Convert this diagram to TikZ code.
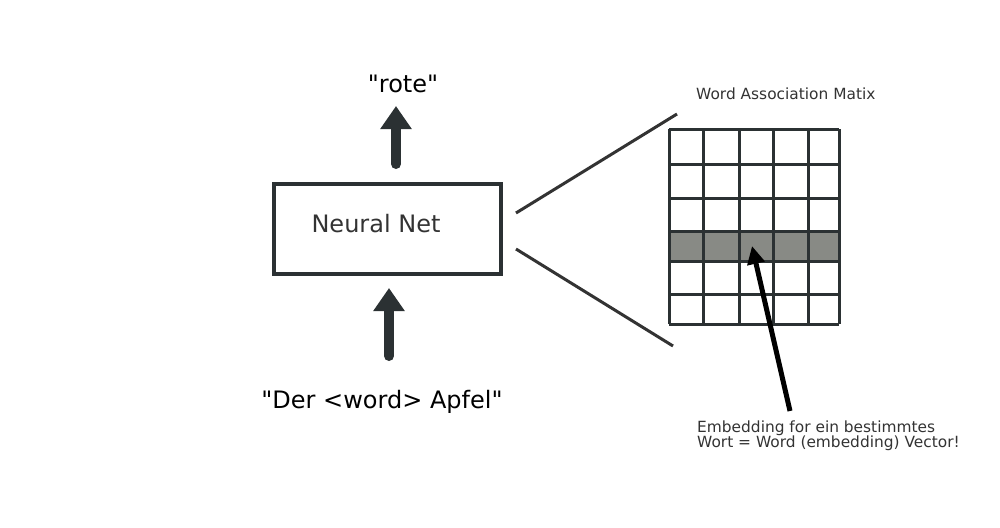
\documentclass[tikz,border=0pt]{standalone}
\usepackage{fontspec}
\setmainfont{DejaVu Sans}[Ligatures=TeXOff]
\usetikzlibrary{arrows.meta}
\definecolor{inkgray}{HTML}{2B3133}
\definecolor{textgray}{HTML}{333333}
\definecolor{rowgray}{HTML}{888A85}
\tikzset{
  bigtext/.style={font=\fontsize{24}{28}\selectfont},
  smalltext/.style={font=\fontsize{15.4}{15}\selectfont, text=textgray, inner sep=0pt},
  fatarrow/.style={draw=inkgray, line width=10pt, line cap=round,
    -{Triangle[width=30pt,length=23pt]}},
  zoomline/.style={draw=textgray, line width=3pt},
  gridline/.style={draw=inkgray, line width=3pt},
}
\begin{document}
\begin{tikzpicture}[x=1pt,y=-1pt]
  \useasboundingbox
    (0,0)
    rectangle
    (1000,527);
  % neural net box
  \node[draw=inkgray, line width=4pt, minimum width=227pt, minimum height=90pt,
    inner sep=0pt] (net) at (387.5,229) {};
  \node[bigtext, text=textgray, anchor=base] (netlabel) at (376,232) {Neural Net};
  \node[bigtext, anchor=base] (outword) at (403,92) {"rote"};
  \node[bigtext, anchor=base] (inword) at (382,408) {"Der <word> Apfel"};
  % arrows in and out
  \coordinate (outfoot) at (396,164);
  \coordinate (outtip) at (396,106);
  \coordinate (infoot) at (389,356);
  \coordinate (intip) at (389,288);
  \draw[fatarrow]
    (outfoot)
    --
    (outtip);
  \draw[fatarrow]
    (infoot)
    --
    (intip);
  % zoom lines
  \coordinate (zoomtopa) at (516,213);
  \coordinate (zoomtopb) at (677,114);
  \coordinate (zoombota) at (516,249);
  \coordinate (zoombotb) at (673,346);
  \draw[zoomline]
    (zoomtopa)
    --
    (zoomtopb);
  \draw[zoomline]
    (zoombota)
    --
    (zoombotb);
  % matrix
  \node[smalltext, anchor=base west] (title) at (696,99) {Word Association Matix};
  \fill[rowgray]
    (669,231)
    rectangle
    (839,261);
  \foreach \gx in {669,703,739,773,808,839} {
    \draw[gridline]
      (\gx,129)
      --
      (\gx,324);
  }
  \foreach \gy in {129,164,198,231,261,294,324} {
    \draw[gridline]
      (669,\gy)
      --
      (839,\gy);
  }
  % pointer
  \node[smalltext, anchor=north west, align=left] (note) at (697,421)
    {Embedding for ein bestimmtes\\Wort = Word (embedding) Vector!};
  \coordinate (pointfoot) at (790,411);
  \coordinate (pointtip) at (752,246);
  \draw[line width=5pt, -{Triangle[width=17pt,length=18pt]}]
    (pointfoot)
    --
    (pointtip);
\end{tikzpicture}
\end{document}
